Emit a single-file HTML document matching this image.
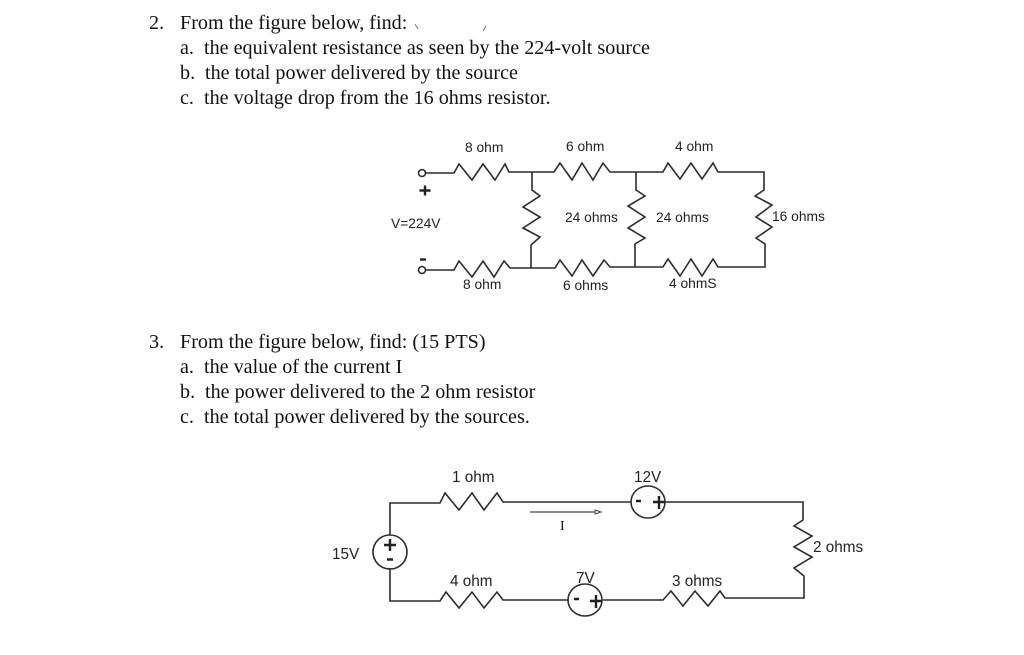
<!DOCTYPE html>
<html>
<head>
<meta charset="utf-8">
<style>
html,body{margin:0;padding:0;background:#fff;width:1024px;height:655px;overflow:hidden}
svg{display:block}
.t{font-family:"Liberation Serif",serif;font-size:20.14px;fill:#111}
.s{font-family:"Liberation Sans",sans-serif;font-size:13.8px;fill:#222}
.b{font-family:"Liberation Sans",sans-serif;font-size:15.3px;fill:#222}
.w{fill:none;stroke:#2c2c2c;stroke-width:1.6;stroke-linejoin:miter}
</style>
</head>
<body>
<svg width="1024" height="655" viewBox="0 0 1024 655" xmlns="http://www.w3.org/2000/svg">
<text class="t" x="149" y="29">2.</text>
<text class="t" x="180" y="29">From the figure below, find:</text>
<text class="t" x="180" y="54">a.</text><text class="t" x="204" y="54">the equivalent resistance as seen by the 224-volt source</text>
<text class="t" x="180" y="79">b.</text><text class="t" x="205" y="79">the total power delivered by the source</text>
<text class="t" x="180" y="104">c.</text><text class="t" x="204" y="104">the voltage drop from the 16 ohms resistor.</text>
<path d="M415 24l3 5M486 26l-3 5" stroke="#777" stroke-width="1" fill="none"/>

<text class="t" x="149" y="348">3.</text>
<text class="t" x="180" y="348">From the figure below, find: (15 PTS)</text>
<text class="t" x="180" y="373">a.</text><text class="t" x="204" y="373">the value of the current I</text>
<text class="t" x="180" y="398">b.</text><text class="t" x="205" y="398">the power delivered to the 2 ohm resistor</text>
<text class="t" x="180" y="423">c.</text><text class="t" x="204" y="423">the total power delivered by the sources.</text>

<!-- circuit 1 -->
<circle class="w" cx="422" cy="173" r="3.500"/>
<circle class="w" cx="422" cy="270" r="3.500"/>
<polyline class="w" points="425,173 454,173 459,164 472,180 483,164 495,180 505,164 509,172 554,172 560,163 572,180 582,163 593,180 603,163 610,172 663,172 668,163 680,179 691,163 702,179 713,163 718,172 764,172 764,190 755,196 772,205 756,217 772,227 756,238 765,244 765,267 718,267 713,259 702,276 691,259 680,276 668,259 663,267 610,267 604,260 593,276 582,260 572,276 560,260 555,268 510,268 504,261 494,277 483,261 472,277 459,261 454,270 425,270"/>
<polyline class="w" points="532,172 532,190 540,196 523,207 540,217 523,228 540,237 531,245 531,268"/>
<polyline class="w" points="636,172 636,190 645,196 628,206 645,217 628,228 645,238 635,244 635,267"/>
<path d="M419.500 190.500h11M425 185.500v10" stroke="#222" stroke-width="2.400" fill="none"/>
<path d="M420 259.500h6" stroke="#222" stroke-width="2.400" fill="none"/>
<text class="s" x="465" y="152">8 ohm</text>
<text class="s" x="566" y="151">6 ohm</text>
<text class="s" x="675" y="151">4 ohm</text>
<text class="s" x="391" y="228">V=224V</text>
<text class="s" x="565" y="222">24 ohms</text>
<text class="s" x="656" y="222">24 ohms</text>
<text class="s" x="772" y="221">16 ohms</text>
<text class="s" x="463" y="289">8 ohm</text>
<text class="s" x="563" y="290">6 ohms</text>
<text class="s" x="669" y="288">4 ohmS</text>

<!-- circuit 2 -->
<polyline class="w" points="390,535 390,503 440,503 445,493 459,510 472,493 484,510 497,493 503,502 631,502"/>
<polyline class="w" points="665,502 803,502 803,520 794,526 812,536 794,547 812,557 794,568 804,576 804,598 725,598 720,591 708,606 695,591 683,606 671,591 663,600 603,600"/>
<polyline class="w" points="568,600 503,600 497,592 484,608 472,592 459,608 446,592 440,601 390,601 390,568"/>
<ellipse class="w" cx="390" cy="552" rx="17" ry="17"/>
<ellipse class="w" cx="648" cy="502" rx="17" ry="16"/>
<ellipse class="w" cx="585" cy="600" rx="17" ry="16"/>
<path d="M384 545h12M390 539v12M387 559.500h6" stroke="#222" stroke-width="2.400" fill="none"/>
<path d="M636 501h5M653 502h12M659 496v13" stroke="#222" stroke-width="2.400" fill="none"/>
<path d="M574 599h5M590 601h12M596 595v13" stroke="#222" stroke-width="2.400" fill="none"/>
<line x1="530" y1="512" x2="595" y2="512" stroke="#444" stroke-width="1.200"/>
<polygon points="595,510 601,512 595,514" fill="#fff" stroke="#444" stroke-width="1"/>
<text class="t" x="560" y="530" style="font-size:14px">I</text>
<text class="b" x="452" y="482">1 ohm</text>
<text class="b" x="634" y="482">12V</text>
<text class="b" x="332" y="559">15V</text>
<text class="b" x="813" y="552">2 ohms</text>
<text class="b" x="450" y="586">4 ohm</text>
<text class="b" x="576" y="583">7V</text>
<text class="b" x="672" y="586">3 ohms</text>
</svg>
</body>
</html>
